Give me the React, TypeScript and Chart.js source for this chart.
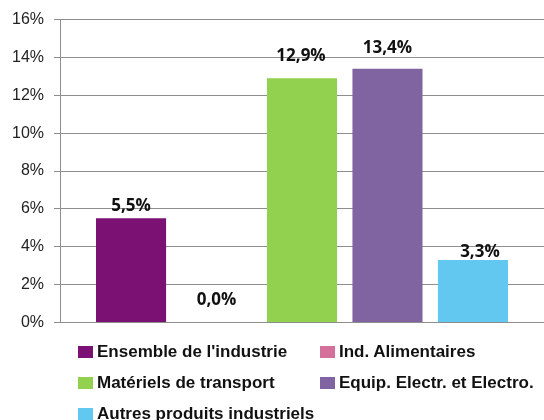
import React, { useEffect, useRef } from "react";
import { Chart, registerables } from "chart.js";

Chart.register(...registerables);

const seriesNames = [
  "Ensemble de l'industrie",
  "Ind. Alimentaires",
  "Matériels de transport",
  "Equip. Electr. et Electro.",
  "Autres produits industriels",
];
const seriesValues = [5.5, 0.0, 12.9, 13.4, 3.3];
const seriesColors = ["#7B1273", "#D4719B", "#92D050", "#8064A2", "#63C8EF"];
const labelOffsets = [12, 22, 22, 21, 8];
const labelShiftX = [0, 0, -1, 0, 7];
const categories = [""];
const yTicks = [0, 2, 4, 6, 8, 10, 12, 14, 16];

const fmt = (v: number) => v.toFixed(1).replace(".", ",") + "%";

const labelPlugin = {
  id: "barLabels",
  afterDatasetsDraw(chart: any) {
    const ctx = chart.ctx;
    ctx.save();
    ctx.font = "bold 17px 'Open Sans', 'DejaVu Sans', sans-serif";
    ctx.fillStyle = "#111";
    ctx.textAlign = "center";
    ctx.textBaseline = "middle";
    chart.data.datasets.forEach((ds: any, i: number) => {
      const meta = chart.getDatasetMeta(i);
      const el = meta.data[0];
      if (!el) return;
      ctx.fillText(fmt(ds.data[0]), el.x + labelShiftX[i], el.y - labelOffsets[i]);
    });
    ctx.restore();
  },
};

export default function App() {
  const ref = useRef<HTMLCanvasElement | null>(null);
  useEffect(() => {
    if (!ref.current) return;
    const chart = new Chart(ref.current, {
      type: "bar",
      data: {
        labels: categories,
        datasets: seriesNames.map((n, i) => ({
          label: n,
          data: [seriesValues[i]],
          backgroundColor: seriesColors[i],
          borderWidth: 0,
          categoryPercentage: 0.883,
          barPercentage: 0.82,
        })),
      },
      options: {
        animation: false,
        responsive: false,
        maintainAspectRatio: false,
        layout: { padding: { top: 14, right: 0, bottom: 8, left: 0 } },
        plugins: { legend: { display: false }, tooltip: { enabled: false } },
        scales: {
          x: {
            grid: { display: false },
            border: { display: true, color: "#8e8e8e", width: 1 },
            ticks: { display: false },
            afterFit: (axis: any) => {
              axis.height = 0;
            },
          },
          y: {
            min: 0,
            max: 16,
            afterBuildTicks: (axis: any) => {
              axis.ticks = yTicks.map((v) => ({ value: v }));
            },
            afterFit: (axis: any) => {
              axis.width = 60;
            },
            grid: { color: "#8e8e8e", lineWidth: 1, tickLength: 6 },
            border: { display: true, color: "#8e8e8e", width: 1 },
            ticks: {
              padding: 10,
              color: "#222",
              font: { family: "'Liberation Sans', Arial, sans-serif", size: 16 },
              callback: (v: any) => v + "%",
            },
          },
        },
      },
      plugins: [labelPlugin],
    });
    return () => chart.destroy();
  }, []);

  return (
    <div style={{ position: "fixed", left: 0, top: 0, width: 544, height: 420, background: "#fff" }}>
      <canvas ref={ref} width={544} height={342} style={{ display: "block" }} />
      <div
        style={{
          position: "absolute",
          left: 78,
          top: 336,
          display: "grid",
          gridTemplateColumns: "242px auto",
          gridAutoRows: "31px",
          fontFamily: "'Liberation Sans', Arial, sans-serif",
          fontWeight: "bold",
          fontSize: 17,
          color: "#111",
        }}
      >
        {seriesNames.map((n, i) => (
          <div key={n} style={{ display: "flex", alignItems: "center", whiteSpace: "nowrap" }}>
            <span
              style={{
                display: "inline-block",
                width: 15,
                height: 12,
                background: seriesColors[i],
                marginRight: 4,
              }}
            />
            <span>{n}</span>
          </div>
        ))}
      </div>
    </div>
  );
}
